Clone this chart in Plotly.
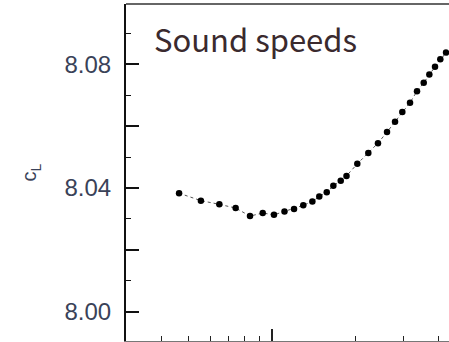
import plotly.graph_objects as go

# Data (x: log-scaled abscissa, decade tick at 1)
x_vals = [0.463, 0.555, 0.647, 0.741, 0.835, 0.928, 1.019, 1.112, 1.204, 1.300,
          1.402, 1.485, 1.580, 1.669, 1.775, 1.862, 2.037, 2.232, 2.419, 2.608,
          2.787, 2.961, 3.157, 3.346, 3.538, 3.707, 3.886, 4.061, 4.259]
c_L = [8.0383, 8.0359, 8.0347, 8.0335, 8.0309, 8.0319, 8.0313, 8.0324, 8.0332, 8.0344,
       8.0356, 8.0372, 8.0386, 8.0407, 8.0423, 8.0439, 8.0478, 8.0513, 8.0545, 8.0581,
       8.0614, 8.0646, 8.0676, 8.0713, 8.0740, 8.0767, 8.0792, 8.0816, 8.0838]

y_label_vals = [8.00, 8.04, 8.08]
y_label_text = ["8.00", "8.04", "8.08"]
y_unlabeled_major = [8.02, 8.06]
x_major = [1]
x_minor = [0.4, 0.5, 0.6, 0.7, 0.8, 0.9, 2, 3, 4]
title_text = "Sound speeds"
y_title = "c<sub>L</sub>"

y_range = [7.9905, 8.0995]

fig = go.Figure()
fig.add_trace(go.Scatter(
    x=x_vals, y=c_L, mode="lines+markers",
    line=dict(color="#555555", width=1, dash="dot"),
    marker=dict(color="black", size=6.5),
    showlegend=False,
))
# invisible helper trace to activate the second y axis (for the unlabeled major ticks)
fig.add_trace(go.Scatter(x=[x_vals[0]], y=[c_L[0]], yaxis="y2", mode="markers",
                         marker=dict(opacity=0), hoverinfo="skip", showlegend=False))

fig.update_layout(
    width=449, height=342,
    margin=dict(l=126, r=0, t=4, b=1, pad=0),
    paper_bgcolor="white", plot_bgcolor="white",
    xaxis=dict(
        type="log", range=[-0.526, 0.640],
        tickmode="array", tickvals=x_major, showticklabels=False,
        ticks="inside", ticklen=12, tickwidth=1.5, tickcolor="#222",
        showgrid=False, zeroline=False,
        showline=True, linecolor="#777", linewidth=1, mirror=False,
        minor=dict(tickmode="array", tickvals=x_minor, ticks="inside",
                   ticklen=5, tickwidth=1.2, tickcolor="#222", showgrid=False),
    ),
    yaxis=dict(
        range=y_range,
        title=dict(text=y_title, standoff=22,
                   font=dict(family="Liberation Sans, Arial", size=20, color="#3a4258")),
        tickmode="array", tickvals=y_label_vals, ticktext=y_label_text,
        ticks="inside", ticklen=13, tickwidth=1.5, tickcolor="#111",
        ticklabelstandoff=8,
        tickfont=dict(family="Liberation Sans, Arial", size=24, color="#3a4258"),
        showgrid=False, zeroline=False,
        showline=True, linecolor="#111", linewidth=2, mirror=False,
        minor=dict(dtick=0.01, tick0=8.0, ticks="inside", ticklen=5,
                   tickwidth=1.2, tickcolor="#111", showgrid=False),
    ),
    yaxis2=dict(
        range=y_range, overlaying="y", side="left", anchor="x",
        tickmode="array", tickvals=y_unlabeled_major, showticklabels=False,
        ticks="inside", ticklen=13, tickwidth=1.5, tickcolor="#111",
        showgrid=False, zeroline=False, showline=False,
    ),
    shapes=[dict(type="line", xref="paper", yref="paper", x0=0, x1=1, y0=1, y1=1,
                 line=dict(color="#333", width=1.5))],
    annotations=[
        dict(text=title_text, xref="paper", yref="paper", x=0.08, y=0.97,
             xanchor="left", yanchor="top", showarrow=False,
             font=dict(family="Noto Sans CJK JP", size=31, color="#3a2a2e")),
    ],
)

fig.write_html("out.html")
